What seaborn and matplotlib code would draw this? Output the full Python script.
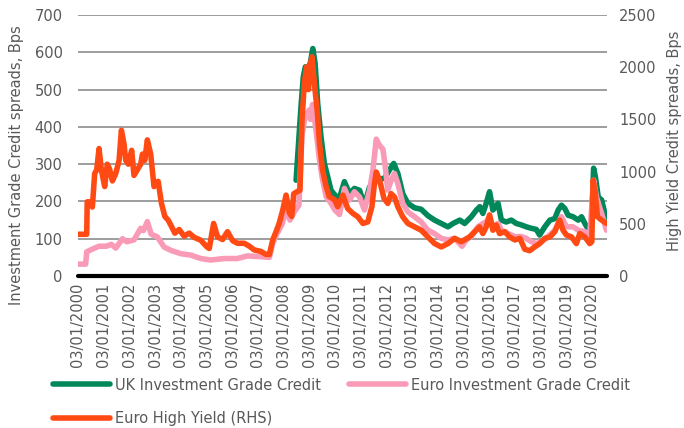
import matplotlib
matplotlib.use('Agg')
import matplotlib.pyplot as plt
from matplotlib.lines import Line2D
import seaborn as sns

# decimal years, values in Bps
UK_IG_T = [2008.49, 2008.68, 2008.77, 2008.85, 2008.94, 2009.04, 2009.14, 2009.23,
           2009.33, 2009.46, 2009.59, 2009.72, 2009.85, 2010.05, 2010.18, 2010.37,
           2010.57, 2010.76, 2010.96, 2011.15, 2011.35, 2011.67, 2011.93, 2012.13,
           2012.29, 2012.45, 2012.64, 2012.84, 2013.10, 2013.36, 2013.62, 2013.88,
           2014.14, 2014.40, 2014.60, 2014.86, 2015.05, 2015.31, 2015.51, 2015.64,
           2015.76, 2015.89, 2016.02, 2016.15, 2016.35, 2016.48, 2016.67, 2016.87,
           2017.06, 2017.26, 2017.45, 2017.65, 2017.84, 2017.97, 2018.17, 2018.37,
           2018.56, 2018.69, 2018.82, 2018.95, 2019.08, 2019.27, 2019.47, 2019.60,
           2019.73, 2019.88, 2019.99, 2020.07, 2020.14, 2020.25, 2020.38, 2020.51,
           2020.57]
UK_IG_V = [257, 454, 534, 561, 557, 570, 610, 570,
           463, 373, 302, 266, 230, 213, 210, 253,
           221, 235, 230, 190, 239, 260, 262, 285,
           302, 275, 221, 195, 183, 179, 162, 150,
           141, 132, 141, 150, 141, 159, 177, 186,
           168, 195, 226, 177, 195, 150, 145, 150,
           141, 137, 132, 128, 125, 110, 132, 150,
           154, 177, 190, 181, 163, 159, 150, 159,
           141, 123, 132, 289, 266, 212, 204, 168,
           154]

EURO_IG_T = [2000.00, 2000.30, 2000.34, 2000.55, 2000.82, 2001.10, 2001.30, 2001.47,
             2001.73, 2001.90, 2002.18, 2002.44, 2002.55, 2002.70, 2002.85, 2003.09,
             2003.35, 2003.61, 2004.00, 2004.40, 2004.78, 2005.17, 2005.30, 2005.70,
             2006.20, 2006.60, 2007.10, 2007.45, 2007.58, 2007.72, 2007.95, 2008.10,
             2008.25, 2008.40, 2008.60, 2008.72, 2008.85, 2009.00, 2009.05, 2009.13,
             2009.25, 2009.40, 2009.50, 2009.66, 2009.85, 2010.00, 2010.18, 2010.37,
             2010.57, 2010.76, 2010.96, 2011.15, 2011.35, 2011.48, 2011.61, 2011.74,
             2011.87, 2011.96, 2012.06, 2012.19, 2012.32, 2012.45, 2012.64, 2012.84,
             2013.10, 2013.36, 2013.62, 2013.88, 2014.14, 2014.40, 2014.66, 2014.95,
             2015.11, 2015.31, 2015.57, 2015.76, 2015.89, 2016.02, 2016.15, 2016.35,
             2016.48, 2016.74, 2017.00, 2017.26, 2017.45, 2017.65, 2017.84, 2018.04,
             2018.30, 2018.56, 2018.82, 2019.01, 2019.27, 2019.47, 2019.73, 2019.92,
             2020.07, 2020.18, 2020.38, 2020.57]
EURO_IG_V = [32, 32, 65, 72, 80, 80, 85, 75,
             100, 92, 97, 128, 122, 146, 112, 105,
             78, 69, 60, 56, 47, 43, 44, 47,
             47, 54, 52, 50, 88, 110, 140, 180,
             150, 170, 190, 380, 430, 445, 420, 460,
             400, 311, 266, 213, 195, 177, 165, 235,
             204, 226, 212, 177, 230, 284, 367, 350,
             340, 293, 230, 257, 275, 248, 195, 172,
             159, 145, 123, 114, 101, 97, 101, 80,
             97, 106, 132, 141, 145, 159, 132, 141,
             123, 114, 106, 106, 101, 92, 87, 92,
             106, 123, 159, 132, 132, 123, 119, 110,
             257, 212, 168, 123]

EURO_HY_T = [2000.00, 2000.34, 2000.36, 2000.49, 2000.56, 2000.65, 2000.73, 2000.82,
             2000.91, 2001.04, 2001.14, 2001.23, 2001.34, 2001.47, 2001.60, 2001.69,
             2001.79, 2001.86, 2001.96, 2002.09, 2002.18, 2002.31, 2002.44, 2002.51,
             2002.60, 2002.70, 2002.83, 2002.96, 2003.12, 2003.25, 2003.38, 2003.51,
             2003.64, 2003.77, 2003.94, 2004.13, 2004.33, 2004.52, 2004.78, 2005.02,
             2005.11, 2005.28, 2005.43, 2005.63, 2005.82, 2006.02, 2006.21, 2006.47,
             2006.67, 2006.86, 2007.12, 2007.32, 2007.45, 2007.58, 2007.71, 2007.83,
             2007.97, 2008.10, 2008.23, 2008.32, 2008.40, 2008.52, 2008.64, 2008.72,
             2008.81, 2008.90, 2008.97, 2009.05, 2009.11, 2009.20, 2009.31, 2009.40,
             2009.52, 2009.66, 2009.78, 2009.98, 2010.11, 2010.31, 2010.50, 2010.70,
             2010.89, 2011.09, 2011.28, 2011.44, 2011.54, 2011.61, 2011.74, 2011.91,
             2012.06, 2012.19, 2012.32, 2012.45, 2012.64, 2012.84, 2013.10, 2013.36,
             2013.62, 2013.88, 2014.14, 2014.40, 2014.66, 2014.92, 2015.24, 2015.44,
             2015.63, 2015.76, 2015.89, 2016.02, 2016.15, 2016.28, 2016.41, 2016.61,
             2016.80, 2017.00, 2017.20, 2017.39, 2017.58, 2017.78, 2017.97, 2018.17,
             2018.37, 2018.56, 2018.75, 2018.88, 2019.01, 2019.21, 2019.40, 2019.53,
             2019.73, 2019.92, 2020.00, 2020.05, 2020.12, 2020.22, 2020.38, 2020.57]
EURO_HY_V = [400, 400, 711, 711, 661, 982, 1018, 1221,
             1018, 857, 1071, 1025, 911, 982, 1107, 1396,
             1268, 1107, 1071, 1204, 964, 1018, 1071, 1168,
             1107, 1304, 1168, 857, 907, 696, 571, 536,
             475, 411, 446, 382, 411, 371, 343, 279,
             264, 504, 375, 350, 425, 339, 314, 314,
             286, 250, 236, 207, 207, 346, 425, 504,
             632, 775, 604, 571, 789, 807, 821, 1493,
             1846, 2004, 1786, 2039, 2100, 1846, 1589, 1271,
             1014, 857, 761, 732, 664, 775, 646, 600,
             568, 504, 518, 664, 886, 996, 918, 743,
             696, 789, 757, 664, 568, 504, 471, 439,
             375, 311, 279, 311, 361, 329, 375, 425,
             471, 407, 471, 586, 439, 489, 407, 425,
             375, 346, 361, 257, 243, 279, 311, 361,
             375, 425, 536, 439, 393, 375, 311, 407,
             375, 311, 329, 918, 825, 568, 536, 504]

YEARS = list(range(2000, 2021))
YEAR_LABELS = [f'03/01/{y}' for y in YEARS]
LEFT_TICKS = [0, 100, 200, 300, 400, 500, 600, 700]
RIGHT_TICKS = [0, 500, 1000, 1500, 2000, 2500]

GREEN = '#00885a'
PINK = '#f99bb6'
ORANGE = '#ff4a14'
TEXT = '#595959'
LW = 4.0

sns.set_style('white')
plt.rcParams['font.family'] = ['DejaVu Sans']

fig = plt.figure(figsize=(6.84, 4.28), dpi=100)
ax = fig.add_axes([0.114, 0.355, 0.773, 0.61])
ax2 = ax.twinx()

sns.lineplot(x=UK_IG_T, y=UK_IG_V, ax=ax, color=GREEN, linewidth=LW, sort=False)
sns.lineplot(x=EURO_IG_T, y=EURO_IG_V, ax=ax, color=PINK, linewidth=LW, sort=False)
sns.lineplot(x=EURO_HY_T, y=EURO_HY_V, ax=ax2, color=ORANGE, linewidth=LW, sort=False)

ax.set_xlim(2000.0, 2020.58)
ax.set_ylim(0, 700)
ax2.set_ylim(0, 2500)

ax.set_yticks(LEFT_TICKS)
ax2.set_yticks(RIGHT_TICKS)
ax.set_xticks(YEARS)
ax.set_xticklabels(YEAR_LABELS, rotation=90)

ax.grid(axis='y', color='#8c8c8c', linewidth=1.2)
ax.grid(axis='x', visible=False)
ax2.grid(False)
ax.set_axisbelow(True)

for a in (ax, ax2):
    for s in ('top', 'left', 'right', 'bottom'):
        a.spines[s].set_visible(False)
ax.axhline(0, color='black', linewidth=3, zorder=5, clip_on=False)

ax.tick_params(axis='y', length=0, pad=11, labelsize=10.5, labelcolor=TEXT)
ax.tick_params(axis='x', length=0, pad=5, labelsize=10.5, labelcolor=TEXT)
ax2.tick_params(axis='y', length=0, pad=9, labelsize=10.5, labelcolor=TEXT)
ax.set_xlabel('')
ax.set_ylabel('')
ax2.set_ylabel('')

fig.text(0.024, 1 - 165 / 428, 'Investment Grade Credit spreads, Bps', rotation=90,
         ha='center', va='center', fontsize=10.5, color=TEXT)
fig.text(0.986, 1 - 141 / 428, 'High Yield Credit spreads, Bps', rotation=90,
         ha='center', va='center', fontsize=10.5, color=TEXT)

handles = [Line2D([], [], color=GREEN, linewidth=LW, solid_capstyle='round'),
           Line2D([], [], color=ORANGE, linewidth=LW, solid_capstyle='round'),
           Line2D([], [], color=PINK, linewidth=LW, solid_capstyle='round')]
labels = ['UK Investment Grade Credit', 'Euro High Yield (RHS)', 'Euro Investment Grade Credit']
fig.legend(handles, labels, ncol=2, loc='upper left', bbox_to_anchor=(0.067, 0.135),
           frameon=False, fontsize=10.5, labelcolor=TEXT, handlelength=3.9,
           handletextpad=0.35, columnspacing=1.9, labelspacing=1.3, borderpad=0)

fig.savefig('out.png', dpi=100)
